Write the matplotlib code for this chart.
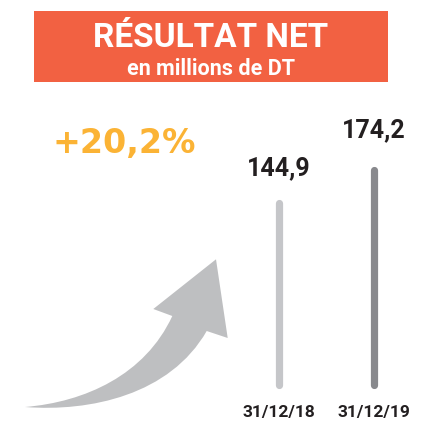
import matplotlib
matplotlib.use("Agg")
import matplotlib.pyplot as plt
from matplotlib.patches import Rectangle, PathPatch
from matplotlib.path import Path

# ---- data ----
categories = ["31/12/18", "31/12/19"]
values = [144.9, 174.2]
value_labels = ["144,9", "174,2"]
growth_label = "+20,2%"
title = "RÉSULTAT NET"
subtitle = "en millions de DT"

# ---- style ----
W, H = 438, 425
DPI = 100
bar_colors = ["#C5C6C9", "#88898D"]
text_dark = "#231F20"
title_bg = "#F26142"
growth_color = "#FBB335"
arrow_color = "#BEBFC1"
FONT = "Roboto"
BASE = -20  # visual baseline of the bars (below zero)
label_offsets = [20, 24]  # points above bar top

fig = plt.figure(figsize=(W / DPI, H / DPI), dpi=DPI)

# decoration layer in pixel coordinates
deco = fig.add_axes([0, 0, 1, 1])
deco.set_xlim(0, W)
deco.set_ylim(H, 0)
deco.axis("off")

deco.add_patch(Rectangle((34, 11), 354, 71, facecolor=title_bg, edgecolor="none"))
deco.text(211, 47, title, ha="center", va="baseline", color="white",
          fontsize=24, fontweight="bold", family=FONT)
deco.text(211, 75, subtitle, ha="center", va="baseline", color="white",
          fontsize=15.5, fontweight="bold", family=FONT)
deco.text(124.5, 153, growth_label, ha="center", va="baseline", color=growth_color,
          fontsize=24, fontweight="bold", family="DejaVu Sans")

verts = [
    (25, 407),
    (90, 412), (170, 395), (206.7, 331),
    (227.7, 338),
    (216, 259.3),
    (153.3, 309),
    (172.3, 316),
    (145, 375), (85, 402), (25, 407),
    (25, 407),
]
codes = [Path.MOVETO,
         Path.CURVE4, Path.CURVE4, Path.CURVE4,
         Path.LINETO, Path.LINETO, Path.LINETO, Path.LINETO,
         Path.CURVE4, Path.CURVE4, Path.CURVE4,
         Path.CLOSEPOLY]
deco.add_patch(PathPatch(Path(verts, codes), facecolor=arrow_color, edgecolor="none"))

# bar layer
bottom_px = 384.5
top_px = 170.5
ax = fig.add_axes([231.5 / W, (H - bottom_px) / H, 190 / W, (bottom_px - top_px) / H])
ax.set_xlim(-0.5, 1.5)
ax.set_ylim(BASE, max(values))
ax.axis("off")

x = list(range(len(categories)))
for i, v in enumerate(values):
    ax.plot([x[i], x[i]], [BASE, v], color=bar_colors[i], linewidth=5.2,
            solid_capstyle="round", clip_on=False)
    ax.annotate(value_labels[i], (x[i], v), xytext=(0, label_offsets[i]),
                textcoords="offset points", ha="center", va="baseline",
                fontsize=18, fontweight="bold", color=text_dark, family=FONT,
                annotation_clip=False)
    ax.annotate(categories[i], (x[i], 0), xycoords=("data", "axes fraction"),
                xytext=(0, -23.2), textcoords="offset points", ha="center",
                va="baseline", fontsize=12.5, fontweight="bold", color=text_dark,
                family=FONT, annotation_clip=False)

fig.savefig("out.png", dpi=DPI)
